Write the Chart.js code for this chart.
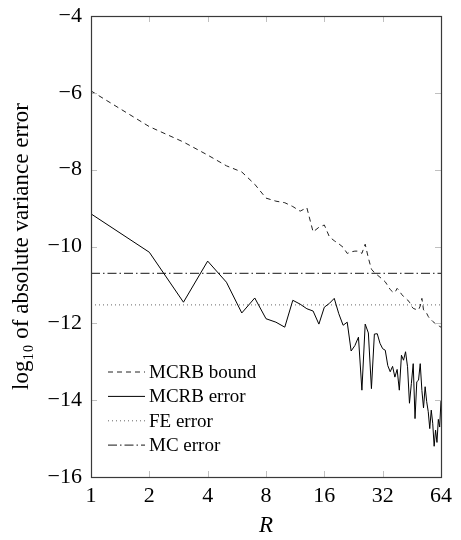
<!DOCTYPE html>
<html><head><meta charset="utf-8">
<script src="https://cdn.jsdelivr.net/npm/chart.js@4/dist/chart.umd.min.js"></script>
<style>html,body{margin:0;padding:0;background:#fff}#wrap{width:461px;height:540px}</style>
</head><body><div id="wrap"><canvas id="c" width="461" height="540"></canvas></div>
<script>
const R = Array.from({length: 64}, (_, i) => i + 1);
const mcrbBound = [
  -5.95, -6.88, -7.28, -7.62, -7.90, -8.06, -8.38, -8.74, -8.82, -8.86,
  -8.96, -9.08, -8.99, -9.62, -9.50, -9.44, -9.75, -9.85, -9.93, -10.02,
  -10.18, -10.14, -10.12, -10.12, -10.18, -9.94, -10.30, -10.59, -10.68, -10.74,
  -10.80, -10.86, -10.92, -11.02, -11.12, -11.18, -11.20, -11.09, -11.15, -11.24,
  -11.30, -11.34, -11.39, -11.45, -11.55, -11.61, -11.63, -11.64, -11.65, -11.55,
  -11.35, -11.65, -11.70, -11.74, -11.82, -11.88, -11.91, -11.95, -11.98, -12.01,
  -12.04, -12.06, -12.08, -12.10
];
const mcrbError = [
  -9.15, -10.15, -11.45, -10.38, -10.93, -11.73, -11.34, -11.88, -11.97, -12.10,
  -11.40, -11.50, -11.62, -11.68, -12.02, -11.58, -11.48, -11.35, -11.75, -12.05,
  -11.97, -12.72, -12.58, -12.36, -13.74, -12.02, -12.25, -13.70, -12.28, -12.27,
  -12.52, -12.66, -12.70, -13.10, -13.26, -13.12, -13.40, -13.20, -13.74, -12.83,
  -12.96, -12.74, -13.13, -14.08, -13.57, -13.05, -14.48, -13.52, -13.48, -13.05,
  -13.75, -14.20, -13.65, -14.04, -14.30, -14.74, -14.26, -14.60, -15.20, -14.78,
  -15.10, -14.50, -14.70, -14.00
];
const feErrorLevel = -11.52;
const mcErrorLevel = -10.70;
const xTicks = [1, 2, 4, 8, 16, 32, 64];
const yMin = -16, yMax = -4, yStep = 2;
const seriesNames = ['MCRB bound', 'MCRB error', 'FE error', 'MC error'];
const xTitle = 'R';
const yTitle = 'log\u2081\u2080 of absolute variance error';

const SERIF = '"Liberation Serif", "DejaVu Serif", serif';
const pts = arr => R.map((r, i) => ({x: r, y: arr[i]}));
const hline = v => [{x: R[0], y: v}, {x: R[R.length - 1], y: v}];

const frameAndLegend = {
  id: 'frameAndLegend',
  afterDraw(chart) {
    const {ctx, chartArea: a, scales: {x, y}} = chart;
    ctx.save();
    ctx.strokeStyle = '#c0c0c0';
    ctx.lineWidth = 1;
    ctx.beginPath();
    xTicks.slice(1, -1).forEach(v => {
      const px = Math.round(x.getPixelForValue(v)) + 0.5;
      ctx.moveTo(px, a.bottom); ctx.lineTo(px, a.bottom - 6);
      ctx.moveTo(px, a.top); ctx.lineTo(px, a.top + 6);
    });
    for (let v = yMin + yStep; v < yMax; v += yStep) {
      const py = Math.round(y.getPixelForValue(v)) + 0.5;
      ctx.moveTo(a.left, py); ctx.lineTo(a.left + 6, py);
      ctx.moveTo(a.right, py); ctx.lineTo(a.right - 6, py);
    }
    ctx.stroke();
    ctx.strokeStyle = '#3a3a3a';
    ctx.lineWidth = 1.2;
    ctx.strokeRect(Math.round(a.left) + 0.5, Math.round(a.top) + 0.5,
                   Math.round(a.right - a.left), Math.round(a.bottom - a.top));
    ctx.font = '19px ' + SERIF;
    ctx.textBaseline = 'middle';
    ctx.fillStyle = '#000';
    chart.data.datasets.forEach((ds, i) => {
      const ly = a.bottom - 105 + i * 24.4;
      const lx = a.left + 17;
      ctx.strokeStyle = ds.borderColor;
      ctx.lineWidth = ds.borderWidth;
      ctx.setLineDash(ds.borderDash || []);
      ctx.beginPath();
      ctx.moveTo(lx, ly); ctx.lineTo(lx + 37, ly);
      ctx.stroke();
      ctx.setLineDash([]);
      ctx.fillText(ds.label, lx + 41, ly + 1);
    });
    ctx.restore();
  }
};

new Chart(document.getElementById('c'), {
  type: 'line',
  data: {
    datasets: [
      {label: seriesNames[0], data: pts(mcrbBound), borderColor: '#222', borderWidth: 1, borderDash: [5, 4]},
      {label: seriesNames[1], data: pts(mcrbError), borderColor: '#000', borderWidth: 1},
      {label: seriesNames[2], data: hline(feErrorLevel), borderColor: '#666', borderWidth: 1, borderDash: [1, 3]},
      {label: seriesNames[3], data: hline(mcErrorLevel), borderColor: '#444', borderWidth: 1.2, borderDash: [9, 3, 1.5, 3]}
    ]
  },
  options: {
    responsive: false,
    animation: false,
    devicePixelRatio: 1,
    layout: {padding: {top: 16, right: 20, left: 0, bottom: 0}},
    elements: {point: {radius: 0}, line: {tension: 0}},
    plugins: {legend: {display: false}, tooltip: {enabled: false}},
    scales: {
      x: {
        type: 'logarithmic', min: 1, max: 64,
        afterBuildTicks: s => { s.ticks = xTicks.map(v => ({value: v})); },
        afterFit: s => { s.height = 63; s.paddingLeft = 0; s.paddingRight = 0; },
        grid: {display: false, drawTicks: false}, border: {display: false},
        ticks: {callback: v => String(v), color: '#000', font: {family: SERIF, size: 22}, padding: 6, maxRotation: 0, autoSkip: false},
        title: {display: true, text: xTitle, color: '#000', font: {family: SERIF, size: 23, style: 'italic'}, padding: {top: 0, bottom: 0}}
      },
      y: {
        type: 'linear', min: yMin, max: yMax,
        afterFit: s => { s.width = 91; s.paddingTop = 0; s.paddingBottom = 0; },
        grid: {display: false, drawTicks: false}, border: {display: false},
        ticks: {stepSize: yStep, callback: v => v < 0 ? '\u2212' + Math.abs(v) : String(v), color: '#000', font: {family: SERIF, size: 22}, padding: 9},
        title: {display: true, text: yTitle, color: '#000', font: {family: SERIF, size: 23}, padding: {top: 8, bottom: 0}}
      }
    }
  },
  plugins: [frameAndLegend]
});
</script></body></html>
